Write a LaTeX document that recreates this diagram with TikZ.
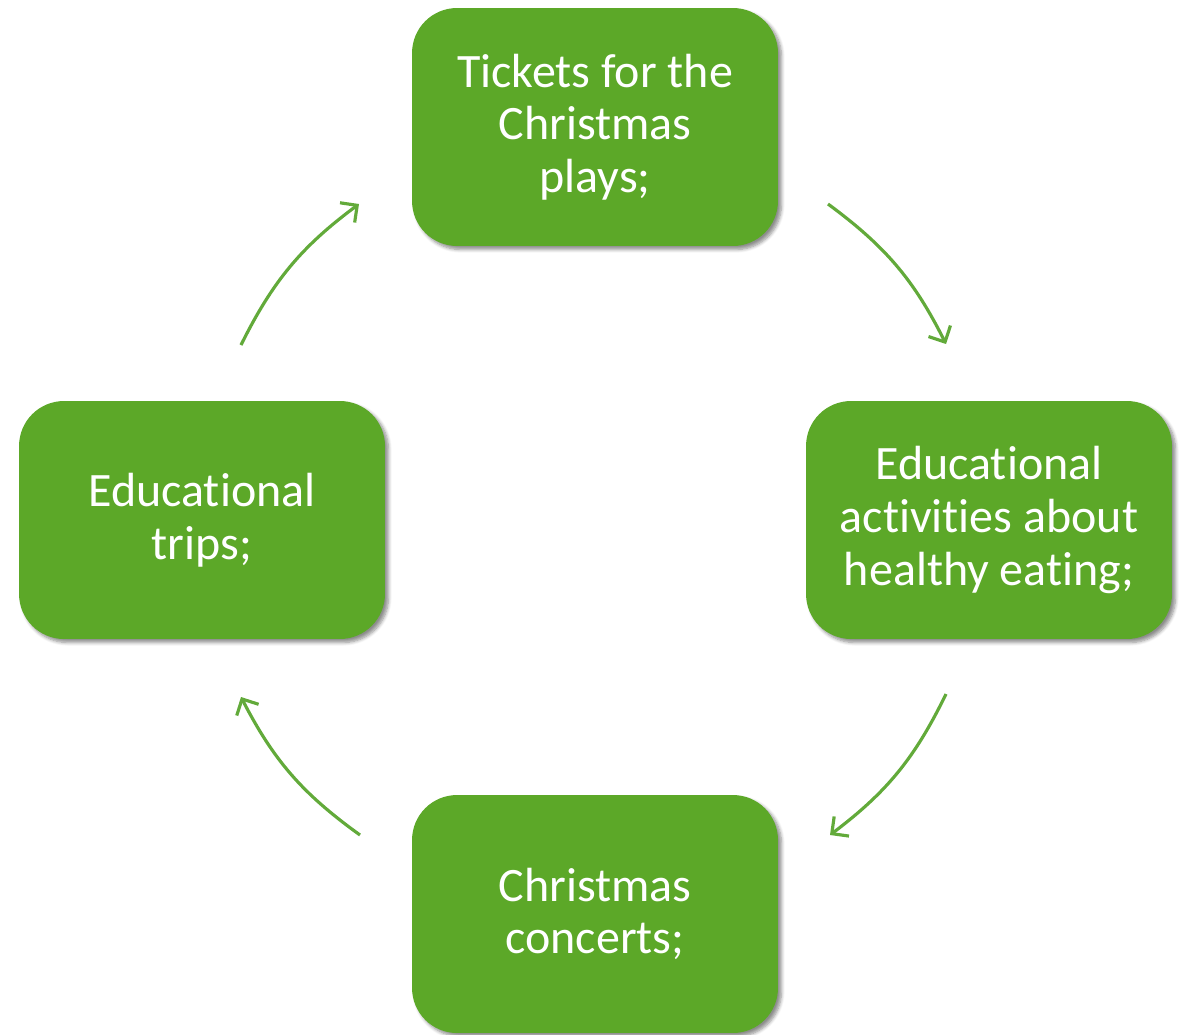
\documentclass[tikz,border=0pt]{standalone}
\usepackage{fontspec}
\setmainfont{Carlito}[Ligatures=NoCommon]
\usetikzlibrary{arrows.meta,shadows.blur}
\definecolor{boxgreen}{RGB}{92,168,40}
\definecolor{arrgreen}{RGB}{98,170,58}
\begin{document}
\begin{tikzpicture}[x=0.02cm,y=-0.02cm,
  box/.style={rounded corners=0.9cm, fill=boxgreen, minimum width=7.32cm, minimum height=4.76cm,
    text=white, align=center, font=\fontsize{27.3}{30}\selectfont,
    blur shadow={shadow xshift=2pt,shadow yshift=-2pt,shadow blur steps=6,shadow opacity=45}},
  arr/.style={draw=arrgreen, line width=1.8pt, -{Straight Barb[length=7pt,width=14pt]}, bend left=13.5}]
\useasboundingbox (0,0) rectangle (1189,1034);
\node[box] (top) at (595,127) {Tickets for the\\Christmas\\plays;};
\node[box] (right) at (989,520) {Educational\\activities about\\healthy eating;};
\node[box] (bottom) at (595,914) {Christmas\\concerts;};
\node[box] (left) at (202,520) {Educational\\trips;};
\coordinate (a1s) at (828,204);
\coordinate (a1e) at (946,344);
\coordinate (a2s) at (946,694);
\coordinate (a2e) at (830,835);
\coordinate (a3s) at (360,835);
\coordinate (a3e) at (241,697);
\coordinate (a4s) at (241,345);
\coordinate (a4e) at (359,204);
\draw[arr] (a1s) to (a1e);
\draw[arr] (a2s) to (a2e);
\draw[arr] (a3s) to (a3e);
\draw[arr] (a4s) to (a4e);
\end{tikzpicture}
\end{document}
